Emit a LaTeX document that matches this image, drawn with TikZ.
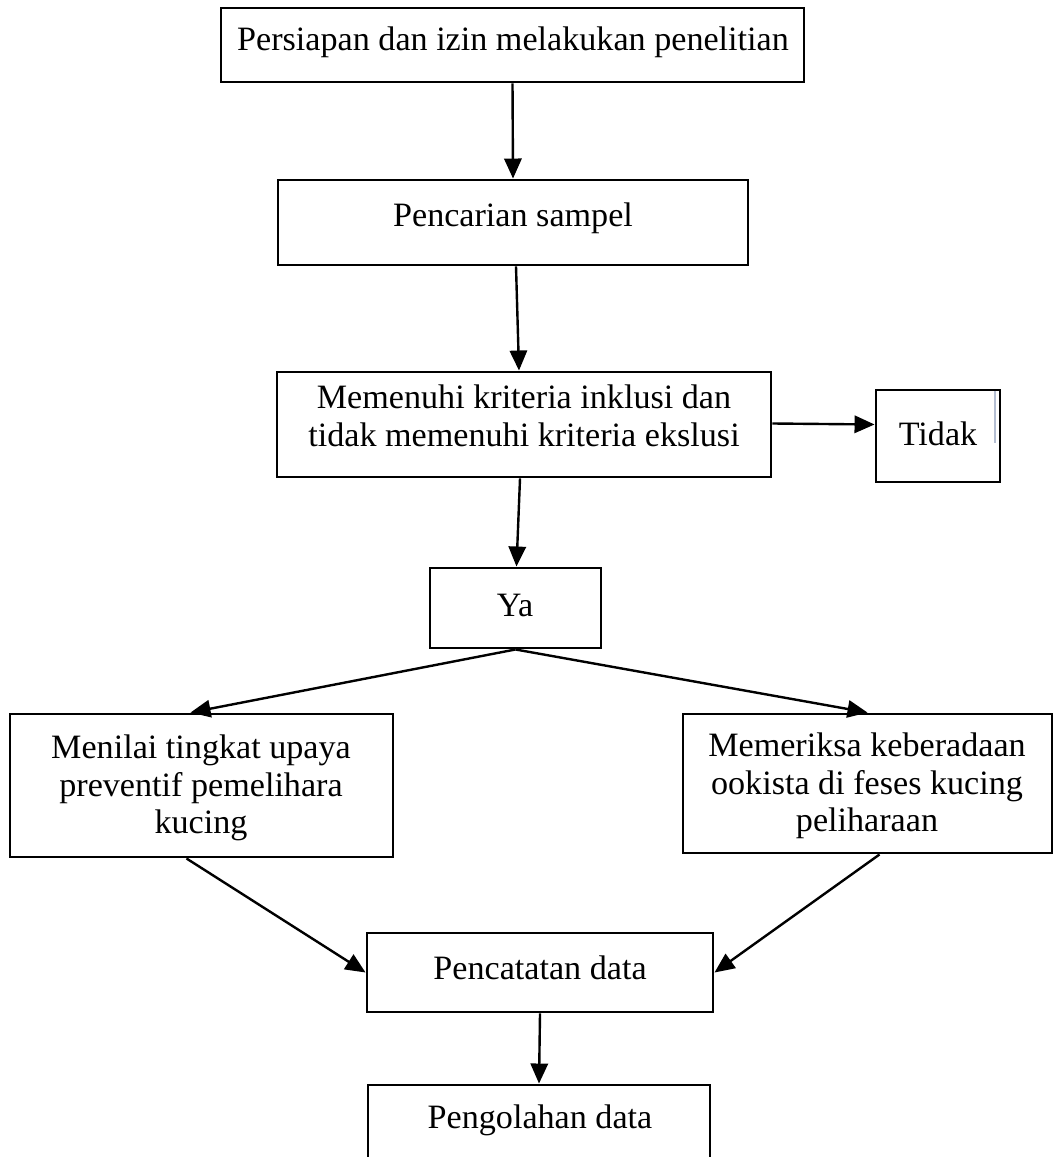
\documentclass[tikz,border=0pt]{standalone}
\usepackage{fontspec}
\setmainfont{Liberation Serif}
\usetikzlibrary{arrows.meta,calc}
\definecolor{cursorgrey}{RGB}{180,190,210}
\begin{document}
\begin{tikzpicture}[x=0.375pt,y=-0.375pt,
  box/.style={draw,line width=1.1pt,inner sep=0pt,rectangle},
  txt/.style={inner sep=0pt,align=center,font=\fontsize{12.8pt}{14.1pt}\selectfont},
  arr/.style={line width=0.9pt,-{Triangle[length=7.5pt,width=6.5pt]}}]
\clip (0,0) rectangle (1056,1157);
\fill[white] (0,0) rectangle (1056,1157);
% boxes
\node[box,minimum width=583*0.375pt,minimum height=74*0.375pt] (b1) at (512.5,45) {};
\node[box,minimum width=470*0.375pt,minimum height=85*0.375pt] (b2) at (513,222.5) {};
\node[box,minimum width=494*0.375pt,minimum height=105*0.375pt] (b3) at (524,424.5) {};
\node[box,minimum width=124*0.375pt,minimum height=92*0.375pt] (tidak) at (938,436) {};
\node[box,minimum width=171*0.375pt,minimum height=80*0.375pt] (ya) at (515.5,608) {};
\node[box,minimum width=383*0.375pt,minimum height=143*0.375pt] (left) at (201.5,785.5) {};
\node[box,minimum width=369*0.375pt,minimum height=139*0.375pt] (right) at (867.5,783.5) {};
\node[box,minimum width=346*0.375pt,minimum height=79*0.375pt] (pc) at (540,972.5) {};
\node[box,minimum width=342*0.375pt,minimum height=100*0.375pt] (pg) at (539,1135) {};
% texts
\node[txt] (t1) at (513,42) {Persiapan dan izin melakukan penelitian};
\node[txt] (t2) at (513,218) {Pencarian sampel};
\node[txt] (t3) at (524,416) {Memenuhi kriteria inklusi dan\\tidak memenuhi kriteria ekslusi};
\node[txt] (t4) at (938,434) {Tidak};
\node[txt] (t5) at (515,605) {Ya};
\node[txt] (t6) at (201,788) {Menilai tingkat upaya\\preventif pemelihara\\kucing};
\node[txt] (t7) at (867,786) {Memeriksa keberadaan\\ookista di feses kucing\\peliharaan};
\node[txt] (t8) at (540,968) {Pencatatan data};
\node[txt] (t9) at (540,1120) {Pengolahan data};
% cursor mark
\coordinate (cur) at (995,391);
\draw[cursorgrey,line width=0.6pt] (cur) -- ++(0,52);
% connectors
\draw[arr] (b1.south) -- (b2.north);
\draw[arr] ($(b2.south)+(3,0)$) -- ($(b3.north)+(-5,0)$);
\draw[arr] ($(b3.east)+(0,-1)$) -- (tidak.west |- b3.east);
\draw[arr] ($(b3.south)+(-4,0)$) -- ($(ya.north)+(1,0)$);
\draw[arr] (ya.south) -- ($(left.north)+(-11,0)$);
\draw[arr] (ya.south) -- (right.north);
\draw[arr] ($(left.south)+(-15,0)$) -- (pc.west);
\draw[arr] ($(right.south)+(12,0)$) -- (pc.east);
\draw[arr] (pc.south) -- (pg.north);
\end{tikzpicture}
\end{document}
